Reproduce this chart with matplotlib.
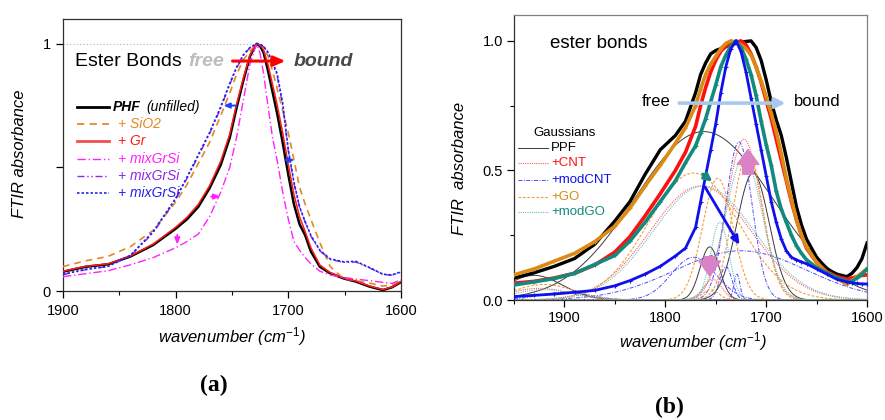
import numpy as np
import matplotlib
matplotlib.use("Agg")
import matplotlib.pyplot as plt

plt.rcParams["font.family"] = ["Liberation Sans", "DejaVu Sans"]
plt.rcParams["mathtext.fontset"] = "custom"
plt.rcParams["mathtext.rm"] = "Liberation Sans"
plt.rcParams["mathtext.it"] = "Liberation Sans:italic"

# ---- panel (a): normalised FTIR spectra ----
wn_a = [1900, 1880, 1860, 1840, 1820, 1800, 1790, 1780, 1770, 1760, 1752, 1746,
        1740, 1734, 1730, 1728, 1725, 1722, 1718, 1714, 1710, 1705, 1700, 1695,
        1690, 1685, 1680, 1672, 1663, 1651, 1640, 1628, 1616, 1608, 1600]
phf = [0.078, 0.098, 0.108, 0.140, 0.186, 0.252, 0.290, 0.340, 0.415, 0.510, 0.620, 0.740,
       0.850, 0.950, 0.985, 1.000, 0.990, 0.965, 0.890, 0.805, 0.720, 0.600, 0.470, 0.350,
       0.270, 0.225, 0.160, 0.098, 0.072, 0.051, 0.038, 0.018, 0.004, 0.015, 0.036]
sio2 = [0.099, 0.122, 0.140, 0.180, 0.245, 0.360, 0.430, 0.515, 0.600, 0.710, 0.800, 0.875,
        0.935, 0.970, 0.990, 1.000, 0.995, 0.980, 0.950, 0.890, 0.820, 0.730, 0.640, 0.530,
        0.420, 0.350, 0.290, 0.195, 0.100, 0.050, 0.042, 0.032, 0.020, 0.025, 0.045]
gr = [0.080, 0.100, 0.110, 0.142, 0.190, 0.258, 0.298, 0.350, 0.425, 0.525, 0.635, 0.755,
      0.860, 0.955, 0.988, 1.000, 0.995, 0.975, 0.915, 0.835, 0.755, 0.640, 0.510, 0.390,
      0.300, 0.240, 0.175, 0.105, 0.075, 0.052, 0.040, 0.020, 0.006, 0.016, 0.038]
mix_magenta = [0.058, 0.070, 0.082, 0.106, 0.135, 0.175, 0.200, 0.230, 0.300, 0.400, 0.500, 0.620,
               0.770, 0.920, 0.975, 1.000, 0.960, 0.880, 0.746, 0.620, 0.530, 0.400, 0.290, 0.200,
               0.165, 0.135, 0.110, 0.080, 0.065, 0.055, 0.048, 0.042, 0.035, 0.031, 0.045]
mix_purple = [0.066, 0.086, 0.099, 0.143, 0.235, 0.370, 0.455, 0.545, 0.635, 0.740, 0.835, 0.900,
              0.952, 0.984, 0.995, 1.000, 0.998, 0.988, 0.962, 0.920, 0.872, 0.750, 0.565, 0.435,
              0.338, 0.278, 0.222, 0.162, 0.128, 0.116, 0.117, 0.094, 0.067, 0.064, 0.076]
mix_blue = [0.068, 0.088, 0.100, 0.145, 0.240, 0.375, 0.460, 0.550, 0.640, 0.745, 0.840, 0.905,
            0.955, 0.985, 0.995, 1.000, 0.998, 0.990, 0.965, 0.925, 0.880, 0.760, 0.571, 0.440,
            0.340, 0.280, 0.225, 0.165, 0.130, 0.118, 0.120, 0.095, 0.068, 0.065, 0.078]

labels_a = ["PHF", "+ SiO2", "+ Gr", "+ mixGrSi", "+ mixGrSi", "+ mixGrSi"]

# ---- panel (b): spectra and gaussian components ----
wn_b = [1950, 1930, 1910, 1890, 1870, 1850, 1835, 1820, 1805, 1790, 1780, 1770, 1765, 1760,
        1755, 1750, 1745, 1740, 1735, 1730, 1725, 1720, 1715, 1710, 1705, 1700, 1695, 1690,
        1685, 1680, 1675, 1670, 1665, 1660, 1650, 1640, 1630, 1620, 1615, 1610, 1605, 1600]
ppf = [0.085, 0.105, 0.130, 0.160, 0.215, 0.305, 0.380, 0.485, 0.580, 0.635, 0.690, 0.800, 0.870, 0.915,
       0.950, 0.963, 0.970, 0.978, 0.985, 0.990, 0.995, 0.998, 1.000, 0.975, 0.925, 0.850, 0.765, 0.695,
       0.635, 0.550, 0.455, 0.360, 0.290, 0.235, 0.165, 0.120, 0.100, 0.090, 0.103, 0.125, 0.160, 0.220]
cnt = [0.065, 0.072, 0.085, 0.103, 0.135, 0.185, 0.245, 0.325, 0.410, 0.500, 0.570, 0.670, 0.750, 0.820,
       0.880, 0.925, 0.960, 0.978, 0.990, 0.995, 1.000, 0.985, 0.950, 0.900, 0.840, 0.770, 0.700, 0.620,
       0.540, 0.460, 0.380, 0.310, 0.250, 0.200, 0.145, 0.110, 0.090, 0.080, 0.085, 0.090, 0.095, 0.097]
go = [0.097, 0.120, 0.150, 0.180, 0.225, 0.285, 0.355, 0.440, 0.520, 0.605, 0.665, 0.750, 0.815, 0.870,
      0.910, 0.940, 0.970, 0.990, 1.000, 0.995, 0.985, 0.970, 0.945, 0.900, 0.845, 0.785, 0.720, 0.650,
      0.565, 0.470, 0.390, 0.310, 0.250, 0.205, 0.145, 0.105, 0.085, 0.060, 0.075, 0.090, 0.105, 0.120]
modgo = [0.058, 0.070, 0.083, 0.103, 0.137, 0.172, 0.228, 0.300, 0.380, 0.460, 0.530, 0.595, 0.645, 0.700,
         0.765, 0.830, 0.900, 0.945, 0.980, 1.000, 0.975, 0.930, 0.870, 0.790, 0.690, 0.600, 0.520, 0.420,
         0.350, 0.300, 0.250, 0.210, 0.180, 0.155, 0.125, 0.105, 0.085, 0.072, 0.072, 0.085, 0.100, 0.120]
modcnt = [0.013, 0.018, 0.023, 0.030, 0.037, 0.055, 0.075, 0.100, 0.130, 0.170, 0.200, 0.280, 0.380, 0.480,
          0.580, 0.680, 0.800, 0.900, 0.970, 1.000, 0.960, 0.880, 0.780, 0.680, 0.580, 0.480, 0.380, 0.300,
          0.235, 0.190, 0.165, 0.155, 0.147, 0.140, 0.120, 0.100, 0.080, 0.070, 0.066, 0.064, 0.062, 0.062]

# gaussian components: centre (cm-1), height, sigma (cm-1)
g_ppf = {"center": [1930, 1762, 1756, 1713], "height": [0.095, 0.65, 0.205, 0.49], "sigma": [28, 68, 9.5, 16]}
g_cnt = {"center": [1925, 1765, 1722, 1753], "height": [0.045, 0.44, 0.62, 0.08], "sigma": [30, 50, 17, 9]}
g_modcnt = {"center": [1900, 1772, 1740, 1729, 1727, 1725], "height": [0.03, 0.165, 0.13, 0.10, 0.61, 0.19],
            "sigma": [25, 22, 6, 3, 13, 65]}
g_go = {"center": [1920, 1772, 1748, 1718, 1755], "height": [0.06, 0.49, 0.47, 0.57, 0.04], "sigma": [30, 45, 15, 15, 8]}
g_modgo = {"center": [1920, 1762, 1746, 1722], "height": [0.04, 0.44, 0.30, 0.55], "sigma": [30, 50, 9, 18]}

gauss_labels = ["PPF", "+CNT", "+modCNT", "+GO", "+modGO"]

fig = plt.figure(figsize=(8.85, 4.2), dpi=100)
ax1 = fig.add_axes([0.0712, 0.3071, 0.3819, 0.6476])
ax2 = fig.add_axes([0.5808, 0.2857, 0.3989, 0.6786])

# ---------------- panel (a) ----------------
ax1.hlines(1.0, 1900, 1728, color="#b0b0b0", lw=0.8, ls=(0, (1, 2)))
styles_a = [
    (phf, "black", "-", 1.8),
    (sio2, "#e08a22", (0, (4, 3)), 1.2),
    (gr, "#ff1a1a", "-", 1.1),
    (mix_magenta, "#ff22ff", (0, (6, 2, 1, 2)), 1.0),
    (mix_purple, "#8a2be2", (0, (5, 2, 1, 2, 1, 2)), 1.0),
    (mix_blue, "#2222ee", (0, (1.5, 1.2)), 1.2),
]
order = [4, 5, 1, 3, 0, 2]
for i in order:
    y, c, ls, lw = styles_a[i]
    ax1.plot(wn_a, y, color=c, ls=ls, lw=lw, zorder=2 + i)

ax1.set_xlim(1900, 1600)
ax1.set_ylim(0, 1.1)
ax1.set_xticks([1900, 1800, 1700, 1600])
ax1.set_xticks([1850, 1750, 1650], minor=True)
ax1.set_yticks([0, 0.5, 1])
ax1.set_yticklabels(["0", "", "1"])
ax1.tick_params(direction="out", length=5, width=0.9, labelsize=10.5, pad=4)
ax1.tick_params(which="minor", direction="out", length=3, width=0.8)
for s in ax1.spines.values():
    s.set_color("#303030")
    s.set_linewidth(0.9)

# legend drawn by hand
leg_y = [0.676, 0.614, 0.551, 0.485, 0.423, 0.360]
leg_lw = [2.0, 1.3, 2.0, 1.0, 1.0, 1.2]
leg_text_c = ["black", "#e08a22", "#ff1a1a", "#ff22ff", "#8a2be2", "#2222ee"]
for i, yy in enumerate(leg_y):
    _, c, ls, _ = styles_a[i]
    lc = "#f05050" if i == 2 else c
    ax1.plot([0.041, 0.136], [yy, yy], color=lc, ls=ls, lw=leg_lw[i], transform=ax1.transAxes)
    if i == 0:
        ax1.text(0.148, yy, labels_a[0], transform=ax1.transAxes, fontsize=10, fontweight="bold",
                 fontstyle="italic", va="center")
        ax1.text(0.247, yy, "(unfilled)", transform=ax1.transAxes, fontsize=10,
                 fontstyle="italic", va="center")
    else:
        ax1.text(0.163, yy, labels_a[i], transform=ax1.transAxes, fontsize=10,
                 fontstyle="italic", color=leg_text_c[i], va="center")

ax1.text(1889, 0.927, "Ester Bonds", fontsize=14, va="center")
ax1.text(1789, 0.927, "free", fontsize=14, va="center", fontweight="bold", fontstyle="italic", color="#bdbdbd")
ax1.text(1695, 0.927, "bound", fontsize=14, va="center", fontweight="bold", fontstyle="italic", color="#484848")
ax1.annotate("", xy=(1700, 0.93), xytext=(1752, 0.93), zorder=10,
             arrowprops=dict(arrowstyle="-|>,head_length=0.7,head_width=0.3", color="#ff0000", lw=2.2))
ax1.annotate("", xy=(1760, 0.75), xytext=(1744, 0.75), zorder=10,
             arrowprops=dict(arrowstyle="-|>,head_length=0.35,head_width=0.15", color="#1f3fff", lw=1.4))
ax1.annotate("", xy=(1692, 0.53), xytext=(1705, 0.53), zorder=10,
             arrowprops=dict(arrowstyle="-|>,head_length=0.35,head_width=0.15", color="#1f3fff", lw=1.4))
ax1.annotate("", xy=(1758, 0.382), xytext=(1771, 0.382), zorder=10,
             arrowprops=dict(arrowstyle="-|>,head_length=0.35,head_width=0.15", color="#ff22ff", lw=1.4))
ax1.annotate("", xy=(1798.6, 0.177), xytext=(1798.6, 0.238), zorder=10,
             arrowprops=dict(arrowstyle="-|>,head_length=0.35,head_width=0.15", color="#ff22ff", lw=1.4))

fig.text(0.0215, 0.635, "FTIR absorbance", rotation=90, fontsize=12, fontstyle="italic", ha="center", va="center")
fig.text(232 / 885, 1 - 337 / 420, "wavenumber (cm$^{-1}$)", fontsize=12, fontstyle="italic", ha="center", va="center")
fig.text(214 / 885, 1 - 385 / 420, "(a)", fontsize=17, fontweight="bold", family="Liberation Serif",
         ha="center", va="center")

# ---------------- panel (b) ----------------
xg = np.linspace(1950, 1600, 701)
gauss_sets = [
    (g_ppf, "#3a3a3a", "-", 0.7),
    (g_cnt, "#ff5a5a", (0, (1, 1)), 0.8),
    (g_modcnt, "#4a4aff", (0, (4, 1.5, 1, 1.5)), 0.7),
    (g_go, "#f0a040", (0, (2.5, 1.5)), 0.8),
    (g_modgo, "#6cc0c0", (0, (1, 1)), 0.8),
]
for g, c, ls, lw in gauss_sets:
    for cen, h, sg in zip(g["center"], g["height"], g["sigma"]):
        ax2.plot(xg, h * np.exp(-0.5 * ((xg - cen) / sg) ** 2), color=c, ls=ls, lw=lw, zorder=1)

ax2.plot(wn_b, ppf, color="black", lw=2.4, zorder=3)
ax2.plot(wn_b, cnt, color="#ff1010", lw=2.6, zorder=4)
ax2.plot(wn_b, go, color="#dc8a14", lw=2.6, zorder=5, marker="+", ms=3, mew=0.8)
ax2.plot(wn_b, modgo, color="#138a7e", lw=2.6, zorder=6, marker="+", ms=3.5, mew=0.8)
ax2.plot(wn_b, modcnt, color="#1010ee", lw=2.0, zorder=7, marker="+", ms=3.5, mew=0.8)

ax2.set_xlim(1950, 1600)
ax2.set_ylim(0, 1.1)
ax2.set_xticks([1900, 1800, 1700, 1600])
ax2.set_xticks([1950, 1850, 1750, 1650], minor=True)
ax2.set_yticks([0.0, 0.5, 1.0])
ax2.set_yticklabels(["0.0", "0.5", "1.0"])
ax2.set_yticks([0.25, 0.75], minor=True)
ax2.tick_params(direction="out", length=5, width=0.9, labelsize=10.5, pad=3)
ax2.tick_params(which="minor", direction="out", length=3, width=0.8)
for name, s in ax2.spines.items():
    s.set_linewidth(0.9)
    s.set_color("#808080" if name in ("top", "right") else "#303030")

ax2.text(1914, 0.99, "ester bonds", fontsize=13.5, va="center")
ax2.text(1823, 0.767, "free", fontsize=12, va="center")
ax2.text(1672, 0.767, "bound", fontsize=12, va="center")
ax2.annotate("", xy=(1678, 0.76), xytext=(1789, 0.76), zorder=9,
             arrowprops=dict(arrowstyle="-|>,head_length=0.6,head_width=0.3", color="#a9c9ec", lw=2.6))

ax2.text(0.054, 0.586, "Gaussians", transform=ax2.transAxes, fontsize=9.5, va="center")
g_rows = [0.533, 0.481, 0.421, 0.361, 0.309]
g_text_c = ["black", "#ff1010", "#1010ee", "#dc8a14", "#138a7e"]
for (g, c, ls, lw), yy, lab, tc in zip(gauss_sets, g_rows, gauss_labels, g_text_c):
    ax2.plot([0.011, 0.096], [yy, yy], color=c, ls=ls, lw=lw, transform=ax2.transAxes)
    ax2.text(0.105, yy, lab, transform=ax2.transAxes, fontsize=9.5, color=tc, va="center")

pink = "#d982c6"
ax2.annotate("", xy=(1756, 0.082), xytext=(1756, 0.178), zorder=10,
             arrowprops=dict(arrowstyle="simple,head_length=0.9,head_width=1.3,tail_width=0.65",
                             color=pink, mutation_scale=12))
ax2.annotate("", xy=(1718, 0.592), xytext=(1718, 0.475), zorder=10,
             arrowprops=dict(arrowstyle="simple,head_length=0.9,head_width=1.3,tail_width=0.65",
                             color=pink, mutation_scale=12))
ax2.annotate("", xy=(1751, 0.45), xytext=(1765, 0.492), zorder=10,
             arrowprops=dict(arrowstyle="-|>,head_length=0.45,head_width=0.22", color="#138a7e", lw=2.4))
ax2.annotate("", xy=(1725, 0.203), xytext=(1762, 0.445), zorder=10,
             arrowprops=dict(arrowstyle="-|>,head_length=0.5,head_width=0.22", color="#1010ee", lw=2.0))

fig.text(459 / 885, 1 - 168 / 420, "FTIR  absorbance", rotation=90, fontsize=12, fontstyle="italic",
         ha="center", va="center")
fig.text(693 / 885, 1 - 342 / 420, "wavenumber (cm$^{-1}$)", fontsize=12, fontstyle="italic",
         ha="center", va="center")
fig.text(669 / 885, 1 - 407 / 420, "(b)", fontsize=17, fontweight="bold", family="Liberation Serif",
         ha="center", va="center")

fig.savefig("out.png", dpi=100)
